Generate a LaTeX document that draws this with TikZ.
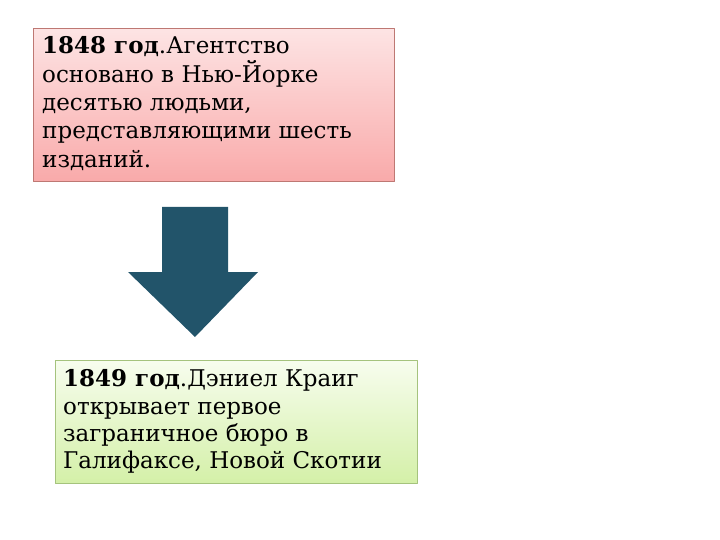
\documentclass[tikz,border=0pt]{standalone}
\usepackage{fontspec}
\setmainfont{DejaVu Serif}
\definecolor{pinktop}{RGB}{253,228,228}
\definecolor{pinkbot}{RGB}{249,170,170}
\definecolor{pinkline}{RGB}{190,120,115}
\definecolor{greentop}{RGB}{247,253,238}
\definecolor{greenbot}{RGB}{212,240,168}
\definecolor{greenline}{RGB}{165,195,125}
\definecolor{arrowblue}{RGB}{34,84,106}
\begin{document}
\begin{tikzpicture}[x=1pt,y=-1pt,line join=round,
	yearbox/.style={draw,line width=0.7pt,anchor=north west,inner sep=0pt},
	yeartext/.style={anchor=north west,inner sep=0pt,align=left,font=\fontsize{23}{28.4}\selectfont}]
	\useasboundingbox (0,0) rectangle (720,540);
	% first box, 1848
	\node[yearbox,draw=pinkline,top color=pinktop,bottom color=pinkbot,minimum width=361pt,minimum height=153pt] (box1848) at (33,28) {};
	\node[yeartext] (text1848) at ([shift={(9,8.5)}]box1848.north west) {\textbf{1848 год}.Агентство\\основано в Нью-Йорке\\десятью людьми,\\представляющими шесть\\изданий.};
	% block arrow down
	\coordinate (arrowtop) at (195,207);
	\fill[arrowblue] (arrowtop) ++(-33,0) -- ++(66,0) -- ++(0,65) -- ++(30,0) -- (195,337) -- (128,272) -- ++(34,0) -- cycle;
	% second box, 1849
	\node[yearbox,draw=greenline,top color=greentop,bottom color=greenbot,minimum width=362pt,minimum height=123pt] (box1849) at (55,360) {};
	\node[yeartext,font=\fontsize{23}{27.3}\selectfont] (text1849) at ([shift={(8,9.5)}]box1849.north west) {\textbf{1849 год}.Дэниел Краиг\\открывает первое\\заграничное бюро в\\Галифаксе, Новой Скотии};
\end{tikzpicture}
\end{document}
